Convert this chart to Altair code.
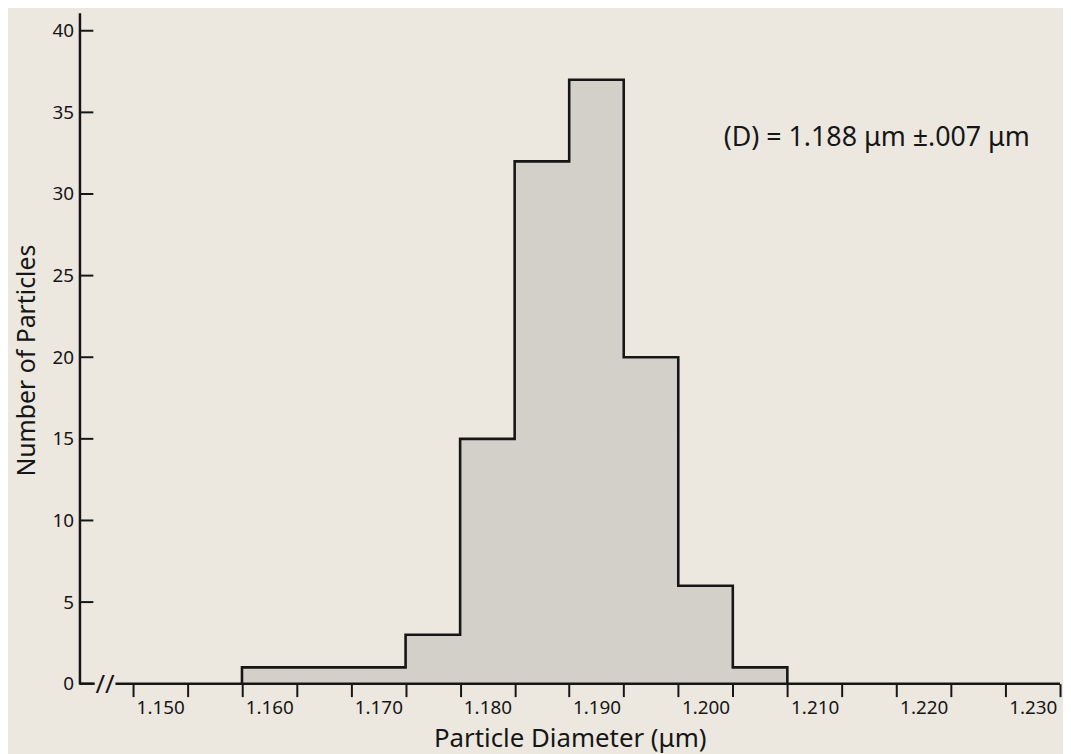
import altair as alt
import pandas as pd

# ---- data ----
bin_centers = [1.160, 1.165, 1.170, 1.175, 1.180, 1.185, 1.190, 1.195, 1.200, 1.205]
counts = [1, 1, 1, 3, 15, 32, 37, 20, 6, 1]
bin_width = 0.005

x_tick_values = [1.1475, 1.1525, 1.1575, 1.1625, 1.1675, 1.1725, 1.1775, 1.1825, 1.1875,
                 1.1925, 1.1975, 1.2025, 1.2075, 1.2125, 1.2175, 1.2225, 1.2275, 1.2325]
x_label_values = [1.150, 1.160, 1.170, 1.180, 1.190, 1.200, 1.210, 1.220, 1.230]
y_tick_values = [0, 5, 10, 15, 20, 25, 30, 35, 40]

x_domain = [1.1426, 1.2325]
y_domain = [0, 41.1]
x_break = [1.1440, 1.1459]

ann_text = ["(D) = 1.188 \u03bcm \u00b1.007 \u03bcm"]
ann_x = [1.2157]
ann_y = [33.4]

BG = "#ece8e0"
FILL = "#d3d0c9"
INK = "#161616"
FONT = "Noto Sans"

# ---- tables built from the arrays ----
half = bin_width / 2
bars = pd.DataFrame({
    "left": [c - half for c in bin_centers],
    "right": [c + half for c in bin_centers],
    "count": counts,
})

pts_x = [bin_centers[0] - half] + [c - half for c in bin_centers] + [bin_centers[-1] + half] * 2
pts_y = [0] + counts + [counts[-1], 0]
outline = pd.DataFrame({"x": pts_x, "y": pts_y, "i": list(range(len(pts_x)))})

yt = pd.DataFrame({"v": y_tick_values})
ann = pd.DataFrame({"x": ann_x, "y": ann_y, "t": ann_text})
base_df = pd.DataFrame({"x1": [x_domain[0], x_break[1]], "x2": [x_break[0], x_domain[1]], "y": [0, 0]})
brk = pd.DataFrame({"x": [(x_break[0] + x_break[1]) / 2], "y": [0], "t": ["//"]})

xs = alt.Scale(domain=x_domain, nice=False, zero=False)
ys = alt.Scale(domain=y_domain, nice=False)

first = x_tick_values[0]
label_expr = (
    f"(round((datum.value - {first}) / {bin_width}) % 2 == 0) ? "
    f"format(datum.value + {half}, '.3f') : ''"
)

x_axis = alt.Axis(
    values=x_tick_values, labelExpr=label_expr, labelOffset=27.5, labelOverlap=False,
    tickSize=13, tickWidth=2, tickColor=INK, domain=False, grid=False,
    labelFontSize=19, labelPadding=2, labelColor=INK, labelFont=FONT,
    title="Particle Diameter (\u03bcm)", titleFontSize=26, titleFont=FONT,
    titleFontWeight="normal", titleColor=INK, titlePadding=8,
)
y_axis = alt.Axis(
    values=y_tick_values, ticks=False, grid=False, domainWidth=2.5, domainColor=INK,
    labelFontSize=19, labelPadding=6, labelColor=INK, labelFont=FONT,
    title="Number of Particles", titleFontSize=25, titleFont=FONT,
    titleFontWeight="normal", titleColor=INK,
    titleX=-45, titleY=350, titleAngle=270, titleAlign="center", titleBaseline="alphabetic",
)

rects = alt.Chart(bars).mark_rect(color=FILL, stroke=FILL, strokeWidth=1).encode(
    x=alt.X("left:Q", scale=xs, axis=x_axis),
    x2="right:Q",
    y=alt.Y("count:Q", scale=ys, axis=y_axis),
    y2=alt.datum(0),
)

line = alt.Chart(outline).mark_line(interpolate="step-after", color=INK, strokeWidth=2.6).encode(
    x=alt.X("x:Q", scale=xs),
    y=alt.Y("y:Q", scale=ys),
    order="i:Q",
)

baseline = alt.Chart(base_df).mark_rule(color=INK, strokeWidth=2.5).encode(
    x=alt.X("x1:Q", scale=xs), x2="x2:Q", y=alt.Y("y:Q", scale=ys)
)

brk_text = alt.Chart(brk).mark_text(
    text="//", fontSize=26, font=FONT, color=INK, baseline="middle", align="center", dy=1
).encode(x=alt.X("x:Q", scale=xs), y=alt.Y("y:Q", scale=ys))

yticks = alt.Chart(yt).mark_rule(color=INK, strokeWidth=2).encode(
    y=alt.Y("v:Q", scale=ys), x=alt.value(0), x2=alt.value(14)
)

annot = alt.Chart(ann).mark_text(
    fontSize=27, font=FONT, color=INK, align="center", baseline="middle"
).encode(x=alt.X("x:Q", scale=xs), y=alt.Y("y:Q", scale=ys), text="t:N")

chart = alt.layer(rects, line, baseline, brk_text, yticks, annot).properties(
    width=988, height=676,
    autosize=alt.AutoSizeParams(type="none"),
    padding={"left": 72, "top": 2, "right": 3, "bottom": 68},
    background=BG,
).configure_view(stroke=None)

chart.save("out.html", embed_options={"renderer": "svg", "actions": False})
